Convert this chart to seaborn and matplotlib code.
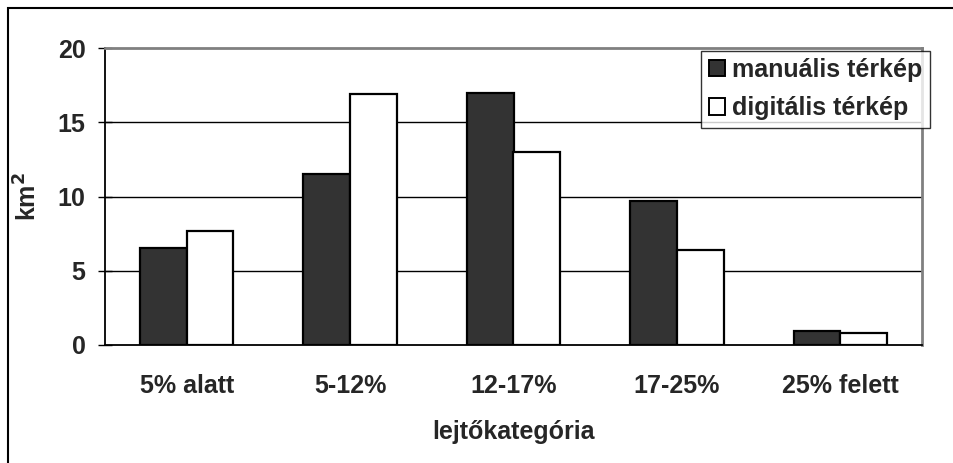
import matplotlib
matplotlib.use("Agg")
import matplotlib.pyplot as plt
import seaborn as sns
import pandas as pd
from matplotlib.patches import Rectangle, Patch

# Slope categories and mapped area (km²) per map type
categories = ["5% alatt", "5-12%", "12-17%", "17-25%", "25% felett"]
manualis = [6.5, 11.5, 17.0, 9.7, 0.95]
digitalis = [7.7, 16.9, 13.0, 6.4, 0.8]
series_names = ["manuális térkép", "digitális térkép"]
y_ticks = [0, 5, 10, 15, 20]

df = pd.DataFrame({
    "kategoria": categories * 2,
    "terulet": manualis + digitalis,
    "terkep": [series_names[0]] * len(categories) + [series_names[1]] * len(categories),
})

sns.set_theme(style="white")
plt.rcParams["font.family"] = ["Liberation Sans", "DejaVu Sans"]
plt.rcParams["font.weight"] = "bold"
FS = 18

fig = plt.figure(figsize=(9.54, 4.63), dpi=100)
ax = fig.add_axes([105 / 954, 1 - 345 / 463, (922 - 105) / 954, (345 - 48) / 463])

palette = {series_names[0]: "#333333", series_names[1]: "#ffffff"}
sns.barplot(data=df, x="kategoria", y="terulet", hue="terkep", order=categories,
            hue_order=series_names, palette=palette, width=0.572, saturation=1,
            edgecolor="black", linewidth=1.6, ax=ax, legend=False, zorder=3)

ax.set_xlim(-0.5, len(categories) - 0.5)
ax.set_ylim(0, 20)
ax.set_yticks(y_ticks)
ax.set_yticklabels([str(t) for t in y_ticks], fontsize=FS, fontweight="bold")
ax.set_xticks(range(len(categories)))
ax.set_xticklabels(categories, fontsize=FS, fontweight="bold")
ax.set_xticks([i - 0.5 for i in range(len(categories) + 1)], minor=True)

ax.tick_params(axis="x", which="major", length=0, pad=21)
ax.tick_params(axis="x", which="minor", direction="out", length=6, width=1, color="black")
ax.tick_params(axis="y", which="major", direction="inout", length=10, width=1,
               color="black", pad=9, left=True)

for y in y_ticks[1:-1]:
    ax.axhline(y, color="black", linewidth=1.0, zorder=1)

for side in ["top", "right"]:
    ax.spines[side].set_color("#808080")
    ax.spines[side].set_linewidth(2)
for side in ["left", "bottom"]:
    ax.spines[side].set_color("black")
    ax.spines[side].set_linewidth(1.3)
ax.spines["bottom"].set_zorder(4)

ax.set_xlabel("lejtőkategória", fontsize=FS, fontweight="bold", labelpad=16)
ax.set_ylabel("km$^\\mathbf{2}$", fontsize=FS, fontweight="bold")
ax.yaxis.set_label_coords(-0.078, 0.5)

handles = [Patch(facecolor=palette[n], edgecolor="black", linewidth=1.4) for n in series_names]
leg = fig.legend(handles, series_names, loc="upper right",
                 bbox_to_anchor=(930 / 954, 1 - 50.5 / 463), bbox_transform=fig.transFigure,
                 prop={"size": FS, "weight": "bold"}, frameon=True, fancybox=False,
                 borderpad=0.3, handlelength=0.64, handleheight=0.64, handletextpad=0.3,
                 labelspacing=0.58, borderaxespad=0)
leg.get_frame().set_edgecolor("black")
leg.get_frame().set_linewidth(1.0)

# outer chart border (left and top edges visible)
fig.patches.append(Rectangle((8 / 954, -0.05), 1.1, 1 - 8 / 463 + 0.05, transform=fig.transFigure,
                             fill=False, edgecolor="black", linewidth=1.5))

fig.savefig("out.png", dpi=100)
